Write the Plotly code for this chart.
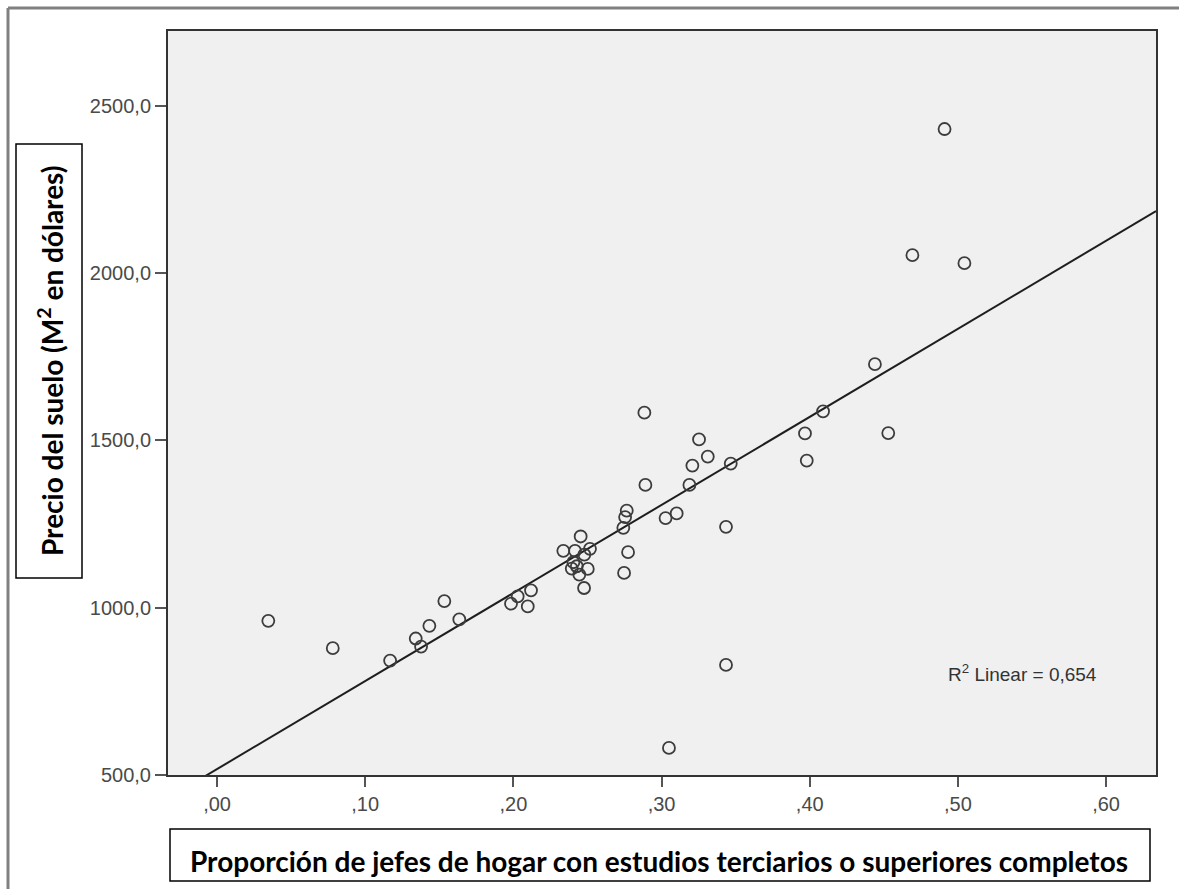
import plotly.graph_objects as go

# ---------------- data ----------------
x_prop = [0.0346, 0.0781, 0.1168, 0.1341, 0.1377, 0.1433, 0.1534, 0.1635,
          0.1984, 0.2029, 0.2119, 0.2097,
          0.2337, 0.2454, 0.2416, 0.2517, 0.2479, 0.2405, 0.2394, 0.2428,
          0.2502, 0.2445, 0.2477,
          0.2765, 0.2754, 0.2742, 0.2774, 0.2747,
          0.2884, 0.2891,
          0.3253, 0.3312, 0.3208, 0.3467, 0.3188, 0.3102, 0.3027, 0.3435,
          0.3435, 0.3050,
          0.3968, 0.3980, 0.4090, 0.4440, 0.4530,
          0.4693, 0.4910, 0.5044]
y_price = [961, 879, 842, 908, 884, 946, 1020, 965,
           1012, 1034, 1052, 1004,
           1170, 1213, 1170, 1176, 1159, 1136, 1117, 1124,
           1116, 1099, 1059,
           1290, 1271, 1239, 1166, 1104,
           1583, 1367,
           1503, 1452, 1425, 1431, 1367, 1282, 1268, 1242,
           829, 581,
           1521, 1440, 1587, 1728, 1522,
           2054, 2431, 2030]

fit_intercept = 517.7
fit_slope = 2632.0
r2_value = "0,654"

x_tickvals = [0.0, 0.1, 0.2, 0.3, 0.4, 0.5, 0.6]
x_ticktext = [",00", ",10", ",20", ",30", ",40", ",50", ",60"]
y_tickvals = [500, 1000, 1500, 2000, 2500]
y_ticktext = ["500,0", "1000,0", "1500,0", "2000,0", "2500,0"]

x_title = "Proporción de jefes de hogar con estudios terciarios o superiores completos"
y_title = "Precio del suelo (M<sup>2</sup> en dólares)"

# ---------------- layout geometry (pixels) ----------------
W, H = 1179, 889
L, R, T, B = 168, 1156, 31, 775
X_RANGE = [-0.0331, 0.6337]
Y_RANGE = [500, 2724]


def px(v):
    return (v - L) / (R - L)


def py(v):
    return (B - v) / (B - T)


fig = go.Figure()

fit_x = X_RANGE
fit_y = [fit_intercept + fit_slope * v for v in fit_x]
fig.add_trace(go.Scatter(x=fit_x, y=fit_y, mode="lines",
                         line=dict(color="#1e1e1e", width=2),
                         hoverinfo="skip"))
fig.add_trace(go.Scatter(x=x_prop, y=y_price, mode="markers",
                         marker=dict(symbol="circle-open", size=12,
                                     color="#3c3c3c", line=dict(width=1.8))))

tick_font = dict(family="Liberation Sans, Arial, sans-serif", size=20, color="#4a4a4a")
title_font = dict(family="Lato, Calibri, sans-serif", size=28, color="#000000",
                  weight="bold")

fig.update_layout(
    width=W, height=H,
    margin=dict(l=L, r=W - R, t=T, b=H - B, pad=0),
    paper_bgcolor="white", plot_bgcolor="#f0f0f0",
    showlegend=False,
    xaxis=dict(range=X_RANGE, tickvals=x_tickvals, ticktext=x_ticktext,
               ticks="outside", ticklen=10, tickwidth=2, tickcolor="#555555",
               showgrid=False, zeroline=False, showline=True,
               linecolor="#333333", linewidth=2, mirror=True,
               tickfont=tick_font),
    yaxis=dict(range=Y_RANGE, tickvals=y_tickvals, ticktext=y_ticktext,
               ticks="outside", ticklen=11, tickwidth=2, tickcolor="#555555",
               showgrid=False, zeroline=False, showline=True,
               linecolor="#333333", linewidth=2, mirror=True,
               tickfont=tick_font),
    shapes=[
        # outer gray frame (top and left)
        dict(type="line", xref="paper", yref="paper",
             x0=px(8), x1=px(W + 5), y0=py(8), y1=py(8),
             line=dict(color="#808080", width=3)),
        dict(type="line", xref="paper", yref="paper",
             x0=px(8), x1=px(8), y0=py(8), y1=py(H + 5),
             line=dict(color="#808080", width=3)),
        # y title box
        dict(type="rect", xref="paper", yref="paper",
             x0=px(16), x1=px(82), y0=py(578), y1=py(144),
             line=dict(color="#000000", width=1.5), fillcolor="white"),
        # x title box
        dict(type="rect", xref="paper", yref="paper",
             x0=px(170), x1=px(1150), y0=py(881), y1=py(829),
             line=dict(color="#000000", width=1.5), fillcolor="white"),
    ],
    annotations=[
        dict(text=y_title, xref="paper", yref="paper",
             x=px(50), y=py(361), xanchor="center", yanchor="middle",
             textangle=-90, showarrow=False, font=title_font),
        dict(text=x_title, xref="paper", yref="paper",
             x=px(659), y=py(861), xanchor="center", yanchor="middle",
             showarrow=False, font=title_font),
        dict(text="R<sup>2</sup> Linear = " + r2_value, xref="paper", yref="paper",
             x=px(946), y=py(673), xanchor="left", yanchor="middle",
             showarrow=False,
             font=dict(family="Liberation Sans, Arial, sans-serif", size=19, color="#333333")),
    ],
)

fig.write_html("out.html", config={"displayModeBar": False},
               post_script="document.body.style.margin='0';")
